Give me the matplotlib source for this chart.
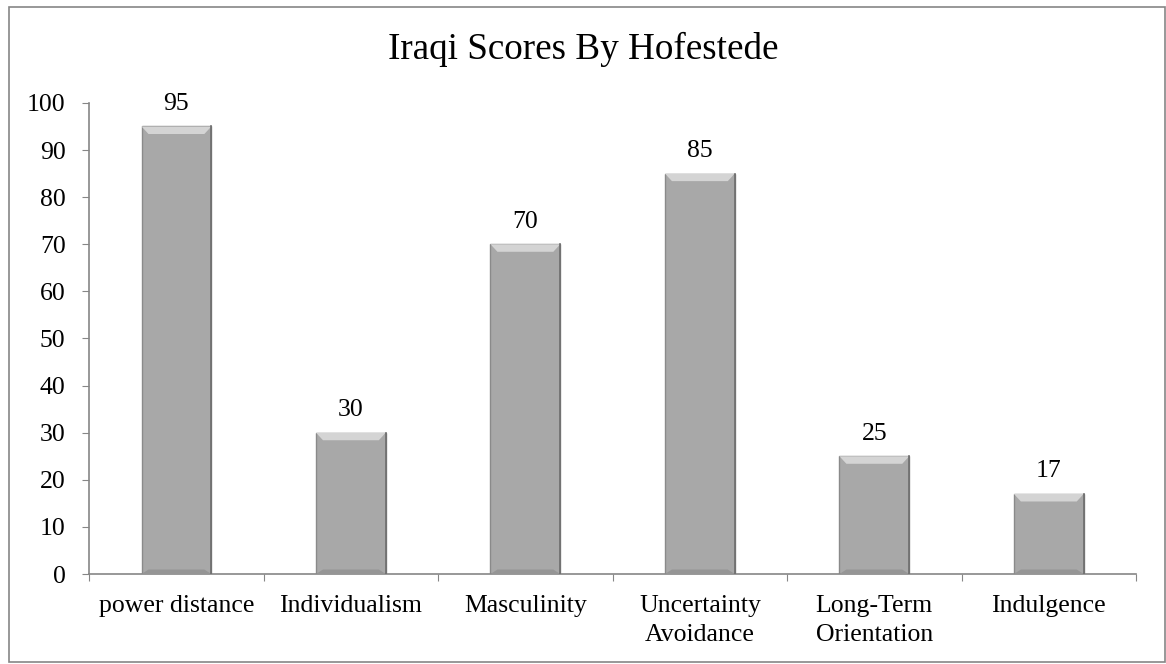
import matplotlib.pyplot as plt
import matplotlib.patches as patches
import numpy as np

categorias = ['power distance', 'Individualism', 'Masculinity',
              'Uncertainty\nAvoidance', 'Long-Term\nOrientation', 'Indulgence']
puntajes = [95, 30, 70, 85, 25, 17]
ticks_y = [0, 10, 20, 30, 40, 50, 60, 70, 80, 90, 100]

plt.rcParams['font.family'] = ['Liberation Serif', 'DejaVu Serif']

fig = plt.figure(figsize=(11.66, 6.64), dpi=100)
ax = fig.add_axes([0.0765, 0.1355, 0.8978, 0.7095])

x = np.arange(len(categorias))
barras = ax.bar(x, puntajes, width=0.4, color='#A8A8A8', edgecolor='#8a8a8a', linewidth=1.0, zorder=2)

# bisel claro arriba y sombra abajo, como el estilo de Excel
for b in barras:
    x0, w, h = b.get_x(), b.get_width(), b.get_height()
    bevel = 1.6
    top = patches.Polygon([[x0, h], [x0 + w, h], [x0 + w - 0.04, h - bevel], [x0 + 0.04, h - bevel]],
                          closed=True, facecolor='#d4d4d4', edgecolor='none', zorder=3)
    bot = patches.Polygon([[x0, 0], [x0 + w, 0], [x0 + w - 0.04, bevel * 0.6], [x0 + 0.04, bevel * 0.6]],
                          closed=True, facecolor='#959595', edgecolor='none', zorder=3)
    ax.add_patch(top)
    ax.add_patch(bot)
    ax.plot([x0 + w, x0 + w], [0, h], color='#6e6e6e', lw=1.2, zorder=4)

for xi, v in zip(x, puntajes):
    ax.annotate(str(v), (xi, v), xytext=(0, 12), textcoords='offset points',
                ha='center', va='baseline', fontsize=18.5)

ax.set_xlim(-0.5, len(categorias) - 0.5)
ax.set_ylim(0, 100)
ax.set_yticks(ticks_y)
ax.set_xticks(np.arange(len(categorias) + 1) - 0.5, minor=False)
ax.set_xticklabels([])
ax.set_xticks(x, minor=True)
ax.set_xticklabels(categorias, minor=True, fontsize=18.5, linespacing=1.4)
ax.tick_params(axis='x', which='minor', length=0, pad=15)
ax.tick_params(axis='x', which='major', length=5, color='#868686', direction='out')
ax.tick_params(axis='y', length=5, color='#868686', labelsize=18.5, pad=12)

for lado in ['top', 'right']:
    ax.spines[lado].set_visible(False)
for lado in ['left', 'bottom']:
    ax.spines[lado].set_color('#868686')
    ax.spines[lado].set_linewidth(1.2)

fig.text(0.5, 0.926, 'Iraqi Scores By Hofestede', ha='center', va='center', fontsize=26.7)

borde = patches.Rectangle((0.008, 0.003), 0.991, 0.987, transform=fig.transFigure,
                          fill=False, edgecolor='#868686', linewidth=1.2)
fig.patches.append(borde)

plt.savefig('out.png', dpi=100)
plt.close()
